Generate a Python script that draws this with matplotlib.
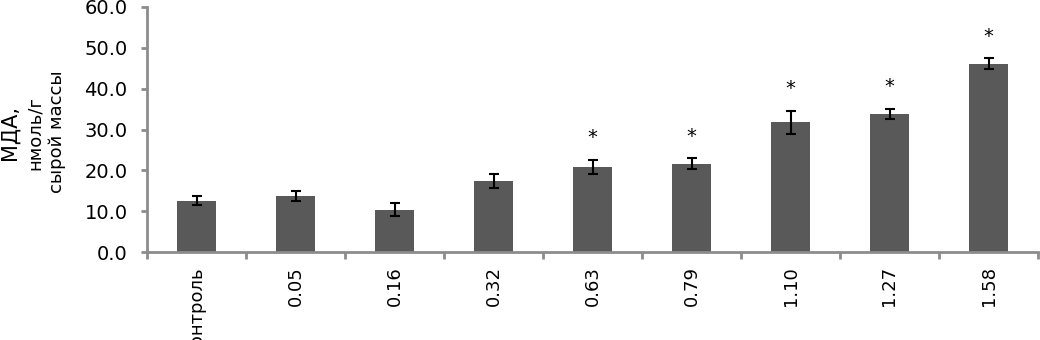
import numpy as np
import matplotlib
matplotlib.use("Agg")
import matplotlib.pyplot as plt

# doses and MDA content (nmol/g fresh mass)
doses = ["контроль", "0.05", "0.16", "0.32", "0.63", "0.79", "1.10", "1.27", "1.58"]
mda = [12.5, 13.8, 10.4, 17.3, 20.9, 21.6, 31.8, 33.8, 46.1]
mda_err = [1.1, 1.2, 1.7, 1.7, 1.7, 1.3, 2.8, 1.3, 1.3]
significant = [False, False, False, False, True, True, True, True, True]

plt.rcParams["font.family"] = ["DejaVu Sans"]
axis_grey = "#8c8c8c"

fig = plt.figure(figsize=(10.4, 3.4), dpi=100)
ax = fig.add_axes([147 / 1040, 88 / 340, 891 / 1040, 245 / 340])

x = np.arange(len(doses))
ax.bar(x, mda, width=0.39, color="#595959", zorder=2)
ax.errorbar(x, mda, yerr=mda_err, fmt="none", ecolor="black",
            elinewidth=1.5, capsize=3.5, capthick=1.5, zorder=3)

# significance marks above the error bars
for xi, v, e, s in zip(x, mda, mda_err, significant):
    if s:
        ax.annotate("*", xy=(xi, v + e), xytext=(0, 9), textcoords="offset points",
                    ha="center", va="bottom", fontsize=14)

ax.set_xlim(-0.5, len(doses) - 0.5)
ax.set_ylim(0, 60)
ax.set_yticks(np.arange(0, 61, 10))
ax.set_yticklabels([f"{t:.1f}" for t in np.arange(0, 61, 10)])
ax.set_xticks(x)
ax.set_xticklabels(doses, rotation=90, va="top")
ax.set_xticks(np.arange(-0.5, len(doses)), minor=True)

ax.tick_params(axis="x", which="major", length=0, pad=10, labelsize=13)
ax.tick_params(axis="x", which="minor", length=5, width=2, color=axis_grey, direction="out")
ax.tick_params(axis="y", length=4, width=2, color=axis_grey, labelsize=14, pad=10)

for side in ["top", "right"]:
    ax.spines[side].set_visible(False)
for side in ["left", "bottom"]:
    ax.spines[side].set_color(axis_grey)
    ax.spines[side].set_linewidth(2)

# three-line y label
fig.text(10 / 1040, 1 - 133 / 340, "МДА,", rotation=90, ha="center", va="center", fontsize=15)
fig.text(35 / 1040, 1 - 133 / 340, "нмоль/г", rotation=90, ha="center", va="center", fontsize=13)
fig.text(57 / 1040, 1 - 132 / 340, "сырой массы", rotation=90, ha="center", va="center", fontsize=13)

fig.savefig("out.png", dpi=100)
